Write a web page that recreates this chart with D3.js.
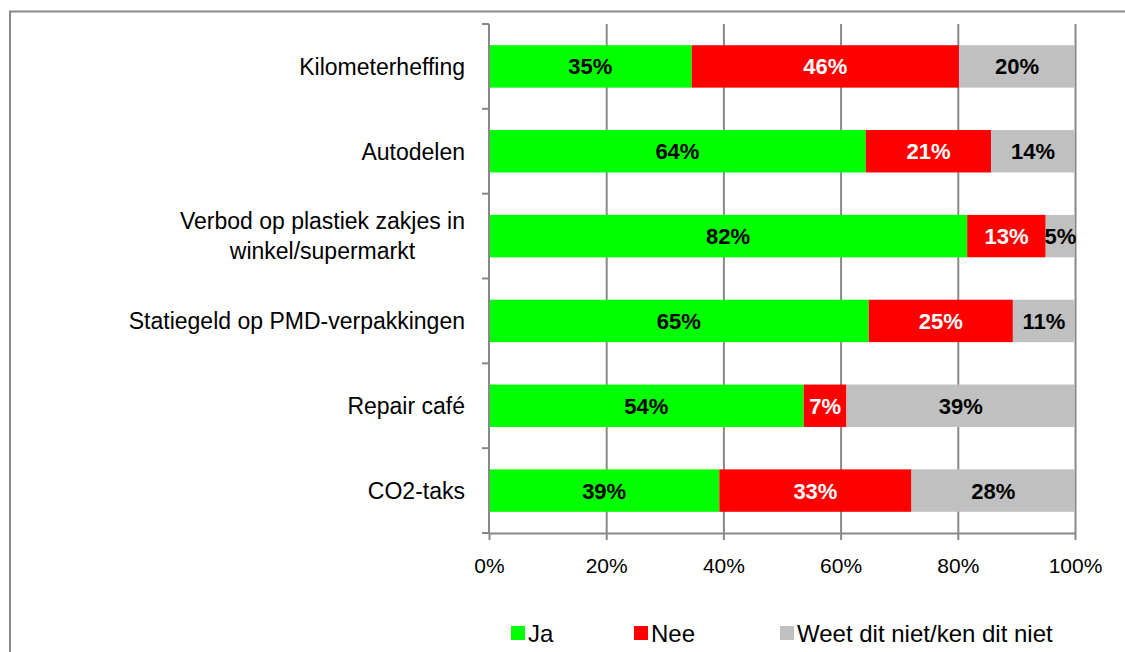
<!DOCTYPE html>
<html>
<head>
<meta charset="utf-8">
<script src="https://cdn.jsdelivr.net/npm/d3@7"></script>
<style>
  html, body { margin: 0; padding: 0; background: #fff; }
  svg { display: block; font-family: "Liberation Sans", Arial, sans-serif; }
</style>
</head>
<body>
<svg id="chart" width="1125" height="652"></svg>
<script>
// ---- data ----
const categories = [
  "Kilometerheffing",
  "Autodelen",
  "Verbod op plastiek zakjes in\nwinkel/supermarkt",
  "Statiegeld op PMD-verpakkingen",
  "Repair café",
  "CO2-taks"
];
const seriesNames = ["Ja", "Nee", "Weet dit niet/ken dit niet"];
const jaValues  = [34.6, 64.3, 81.6, 64.8, 53.7, 39.3];
const neeValues = [45.6, 21.4, 13.4, 24.6, 7.3, 32.8];
const wdnValues = [19.8, 14.3, 5.0, 10.6, 39.0, 27.9];
const tickValues = [0, 0.2, 0.4, 0.6, 0.8, 1.0];
const seriesColors = ["#00FF00", "#FF0000", "#C0C0C0"];
const labelColors = ["#000000", "#FFFFFF", "#000000"];

// ---- layout ----
const svg = d3.select("#chart");
const plot = { left: 489, right: 1075, top: 24, bottom: 533 };
const axisColor = "#888888";

// frame
svg.append("rect")
  .attr("x", 10).attr("y", 11.5)
  .attr("width", 1300).attr("height", 800)
  .attr("fill", "none").attr("stroke", axisColor).attr("stroke-width", 2);

const rows = categories.map((c, i) => {
  const vals = [jaValues[i], neeValues[i], wdnValues[i]];
  const total = d3.sum(vals);
  let acc = 0;
  const segs = vals.map((v, k) => {
    const s = { key: k, v, x0: acc / total, x1: (acc + v) / total };
    acc += v;
    return s;
  });
  return { cat: c, segs };
});

const x = d3.scaleLinear().domain([0, 1]).range([plot.left, plot.right]);
const y = d3.scaleBand().domain(categories).range([plot.top, plot.bottom])
  .paddingInner(0.5).paddingOuter(0.25);

// gridlines
const grid = svg.append("g").attr("transform", `translate(0,${plot.top})`)
  .call(d3.axisBottom(x).tickValues(tickValues.slice(1)).tickSize(plot.bottom - plot.top).tickFormat(""));
grid.select(".domain").remove();
grid.selectAll("line").attr("stroke", axisColor).attr("stroke-width", 2);

// bars
const rowG = svg.append("g").selectAll("g").data(rows).join("g")
  .attr("transform", d => `translate(0,${y(d.cat)})`);
rowG.selectAll("rect").data(d => d.segs).join("rect")
  .attr("x", d => x(d.x0))
  .attr("width", d => x(d.x1) - x(d.x0))
  .attr("y", 0)
  .attr("height", y.bandwidth())
  .attr("fill", d => seriesColors[d.key]);
rowG.selectAll("text").data(d => d.segs).join("text")
  .attr("x", d => (x(d.x0) + x(d.x1)) / 2)
  .attr("y", y.bandwidth() / 2)
  .attr("dy", "0.36em")
  .attr("text-anchor", "middle")
  .attr("font-weight", "bold")
  .attr("font-size", 22)
  .attr("fill", d => labelColors[d.key])
  .text(d => d3.format(".0f")(d.v) + "%");

// x axis
const xAxis = svg.append("g").attr("transform", `translate(0,${plot.bottom})`)
  .call(d3.axisBottom(x).tickValues(tickValues).tickFormat(d3.format(".0%")).tickSize(7).tickSizeOuter(0).tickPadding(18));
xAxis.select(".domain").attr("stroke", axisColor).attr("stroke-width", 2);
xAxis.selectAll("line").attr("stroke", axisColor).attr("stroke-width", 2);
xAxis.selectAll("text").attr("font-size", 21).attr("fill", "#000")
  .attr("font-family", "Liberation Sans, Arial, sans-serif");

// y axis line + boundary ticks
const step = y.step();
const yLine = svg.append("g");
yLine.append("line")
  .attr("x1", x(0)).attr("x2", x(0))
  .attr("y1", plot.top).attr("y2", plot.bottom)
  .attr("stroke", axisColor).attr("stroke-width", 2);
const boundaries = d3.range(categories.length + 1).map(i => y.range()[0] + i * step);
yLine.selectAll("line.tick").data(boundaries).join("line")
  .attr("class", "tick")
  .attr("x1", x(0) - 7).attr("x2", x(0))
  .attr("y1", d => d).attr("y2", d => d)
  .attr("stroke", axisColor).attr("stroke-width", 2);

// category labels
const labelRight = 465;
const lineH = 30;
const catG = svg.append("g");
categories.forEach(c => {
  const lines = c.split("\n");
  const cy = y(c) + y.bandwidth() / 2;
  const t = catG.append("text")
    .attr("font-size", 23).attr("fill", "#000");
  const tspans = lines.map((ln, i) => t.append("tspan").text(ln));
  const widths = tspans.map(ts => ts.node().getComputedTextLength());
  const maxW = d3.max(widths);
  const cx = labelRight - maxW / 2;
  tspans.forEach((ts, i) => {
    ts.attr("x", cx)
      .attr("y", cy + (i - (lines.length - 1) / 2) * lineH)
      .attr("dy", "0.36em");
  });
  t.attr("text-anchor", "middle");
});

// legend
const legendItems = [
  { name: seriesNames[0], color: seriesColors[0], x: 511 },
  { name: seriesNames[1], color: seriesColors[1], x: 634 },
  { name: seriesNames[2], color: seriesColors[2], x: 780 }
];
const lg = svg.append("g").selectAll("g").data(legendItems).join("g")
  .attr("transform", d => `translate(${d.x},626)`);
lg.append("rect").attr("width", 14).attr("height", 14).attr("fill", d => d.color);
lg.append("text").attr("x", 17).attr("y", 7).attr("dy", "0.36em")
  .attr("font-size", 24).attr("fill", "#000").text(d => d.name);
</script>
</body>
</html>
